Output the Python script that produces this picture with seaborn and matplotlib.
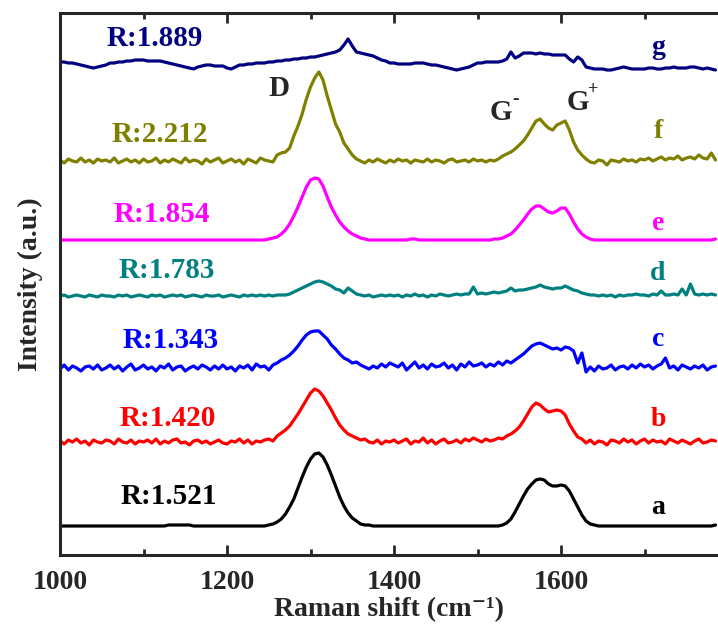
import numpy as np
import pandas as pd
import matplotlib
matplotlib.use("Agg")
import matplotlib.pyplot as plt
import seaborn as sns

# --- DATA (heights above each curve's own baseline) ---
shift = np.arange(1000, 1790, 5)  # Raman shift grid, cm-1

a_vals = [0,0,0,0,0,0,0,0,0,0, 0,0,0,0,0,0,0,0,0,0,
          0,0,0,0,0,0,1,1,1,1, 1,1,0,0,0,0,0,0,0,0,
          0,0,0,0,0,0,0,0,0,0, 1,2,4,7,12,19,27,38,49,59,
          67,72,73,69,61,51,40,29,20,13, 8,5,2,1,1,0,0,0,0,0,
          0,0,0,0,0,0,0,0,0,0, 0,0,0,0,0,0,0,0,0,0,
          0,0,0,0,0,0,1,3,7,14, 22,30,37,42,46,47,46,42,40,40,
          41,40,35,27,19,11,5,2,1,0, 0,0,0,0,0,0,0,0,0,0,
          0,0,0,0,0,0,0,0,0,0, 0,0,0,0,0,0,0,1]

b_vals = [1,-2,2,0,3,-1,1,-3,2,0, -1,2,1,-2,3,0,-1,2,-2,1,
          0,2,-1,3,-2,1,-1,2,3,-1, 0,-3,1,2,-1,1,-2,0,2,-1,
          -2,1,0,3,-1,2,-2,1,0,2, 3,1,6,9,12,16,22,28,35,42,
          49,53,51,46,39,32,24,17,12,8, 6,4,2,3,0,-1,2,-2,1,0,
          2,-1,1,3,-2,1,0,4,-1,2, -2,1,3,-1,0,2,-1,3,1,4,
          2,0,3,1,2,4,3,6,8,11, 15,21,28,35,39,37,33,30,31,32,
          31,27,18,11,5,3,-1,2,-2,1, 0,-3,2,1,-1,3,0,2,-2,1,
          3,-1,2,0,1,-2,3,1,-1,2, 0,-2,1,3,-1,0,2,1]

c_vals = [-1,3,-2,2,0,-3,1,2,-1,3, -2,0,3,-1,2,-3,1,4,-2,0,
          3,-1,1,-3,2,0,4,-2,1,2, -3,0,2,-1,3,1,-2,2,-1,3,
          -1,1,-3,2,0,3,-2,4,1,2, -2,3,5,8,10,13,17,22,28,33,
          36,37,37,33,29,23,19,14,10,8, 5,6,3,1,-1,2,0,4,1,5,
          3,1,5,-2,2,6,0,3,-1,4, 1,2,5,0,3,-2,4,1,6,2,
          3,5,1,4,2,6,3,7,5,8, 11,14,18,22,24,25,23,21,19,20,
          18,21,20,17,5,15,-4,1,-3,2, -1,0,3,-2,1,2,-1,3,0,4,
          1,3,-1,2,4,10,0,2,-2,3, 1,-1,2,0,3,-2,1,2]

d_vals = [0,1,-1,0,1,0,-1,1,0,-1, 1,0,0,-1,1,0,1,-1,0,1,
          0,-1,1,0,1,-1,0,1,0,1, -1,0,1,0,-1,1,0,0,1,-1,
          0,1,0,-1,1,0,1,0,1,0, 1,0,1,1,1,2,4,6,8,10,
          12,14,15,14,12,10,7,6,3,8, 5,2,1,0,1,-1,0,1,0,1,
          0,1,-1,1,0,2,0,1,-1,1, 0,2,1,0,1,2,1,2,2,9,
          2,3,2,3,4,3,4,5,8,5, 6,6,7,8,9,11,9,8,7,8,
          8,10,8,6,5,3,2,1,1,0, 1,0,1,-1,1,0,1,1,2,1,
          1,0,2,1,5,1,1,2,1,7, 1,12,2,1,2,1,2,1]

e_vals = [0,0,0,0,0,0,0,0,0,0, 0,0,0,0,0,0,0,0,0,0,
          0,0,0,0,0,0,0,0,0,0, 0,0,0,0,0,0,0,0,0,0,
          0,0,0,0,0,0,0,0,0,0, 1,2,3,6,10,16,24,33,43,53,
          60,62,61,54,43,33,25,18,13,9, 6,4,2,1,0,0,0,0,0,0,
          0,0,0,0,1,1,0,0,0,0, 0,0,0,0,0,0,0,0,0,0,
          0,0,0,0,1,1,2,4,6,10, 15,20,26,31,34,34,31,28,27,29,
          32,32,26,18,11,6,3,1,0,0, 0,0,0,0,0,0,0,0,0,0,
          0,0,0,0,0,0,0,0,0,0, 0,0,0,0,0,0,0,1]

f_vals = [1,-2,2,0,-1,3,-1,1,-2,2, 0,1,-1,3,-2,0,2,-1,1,-2,
          2,-1,0,3,-2,1,-1,2,0,-2, 3,-1,1,0,-3,2,-1,1,3,-2,
          0,2,-1,1,-3,2,0,-2,3,1, 0,-1,6,8,9,13,25,35,47,62,
          74,83,89,81,65,51,37,29,18,12, 6,2,0,-2,1,-1,2,0,-2,1,
          -1,2,0,1,-2,1,0,-1,2,-1, 1,0,-2,1,2,-1,0,1,-1,2,
          0,1,-1,1,0,2,5,7,9,12, 16,20,26,33,40,42,37,33,31,36,
          38,40,31,19,11,6,2,-1,-2,1, 0,-4,1,0,-1,2,0,1,-1,2,
          1,3,0,2,4,1,3,2,5,1, 3,4,2,6,3,2,8,1]

g_vals = [6,6,5,5,4,3,2,1,0,1, 2,3,5,5,6,6,7,7,8,8,
          8,7,7,7,7,6,5,4,3,2, 1,0,-1,1,2,3,3,2,2,2,
          0,-1,1,3,3,4,4,5,5,5, 6,6,7,7,8,8,9,9,10,10,
          11,11,12,13,14,15,16,18,23,29, 22,16,15,14,13,12,10,8,7,5,
          5,4,4,4,4,5,5,5,4,3, 3,2,1,0,-1,-2,-1,0,1,3,
          5,5,6,6,6,6,7,9,16,10, 12,15,15,15,14,15,14,14,13,13,
          13,13,9,6,11,8,1,0,-1,-1, -1,-2,-2,-1,0,1,0,-1,-1,-1,
          -1,0,0,-1,-1,0,0,1,0,0, 0,1,1,0,-1,0,-1,-2]

samples = ["a", "b", "c", "d", "e", "f", "g"]
ratios = ["R:1.521", "R:1.420", "R:1.343", "R:1.783", "R:1.854", "R:2.212", "R:1.889"]
offsets = [29, 113, 187, 259, 315, 394, 487]  # vertical stacking of the spectra
colors = ["black", "#FF0000", "#0000FF", "#008080", "#FF00FF", "#808000", "#000080"]

# --- BUILD LONG TABLE ---
all_vals = [a_vals, b_vals, c_vals, d_vals, e_vals, f_vals, g_vals]
frames = []
for name, vals, off in zip(samples, all_vals, offsets):
    frames.append(pd.DataFrame({"shift": shift,
                                "intensity": np.array(vals, dtype=float) + off,
                                "sample": name}))
df = pd.concat(frames, ignore_index=True)

# --- STYLE ---
sns.set_style("ticks")
plt.rcParams["font.family"] = ["Liberation Serif", "DejaVu Serif"]
plt.rcParams["font.weight"] = "bold"

fig = plt.figure(figsize=(7.18, 6.24), dpi=100)
ax = fig.add_axes([60 / 718, 69 / 624, 658 / 718, 542 / 624])

sns.lineplot(data=df, x="shift", y="intensity", hue="sample",
             palette=dict(zip(samples, colors)), linewidth=2.3,
             legend=False, ax=ax, estimator=None)

ax.set_xlim(1000, 1788)
ax.set_ylim(0, 542)

# labels on the curves
label_x = [1130, 1129, 1132, 1128, 1122, 1120, 1114]
label_y = [58, 137, 215, 285, 341, 420, 517]
letter_y = [48, 135, 215, 282, 332, 423, 507]
for txt, s, col, lx, ly, sy in zip(ratios, samples, colors, label_x, label_y, letter_y):
    ax.text(lx, ly, txt, color=col, fontsize=21, fontweight="bold",
            ha="center", va="center")
    ax.text(1716, sy, s, color=col, fontsize=20, fontweight="bold",
            ha="center", va="center")

# band names, with small superscripts for G- / G+
ax.text(1262, 467, "D", fontsize=21, fontweight="bold", ha="center", va="center")
ax.text(1528, 443, "G", fontsize=21, fontweight="bold", ha="center", va="center")
ax.text(1545, 456, "-", fontsize=14, fontweight="bold", ha="center", va="center")
ax.text(1620, 452, "G", fontsize=21, fontweight="bold", ha="center", va="center")
ax.text(1639, 465, "+", fontsize=13, fontweight="bold", ha="center", va="center")

# axes cosmetics
for side in ["left", "bottom", "top"]:
    ax.spines[side].set_linewidth(2.2)
ax.spines["right"].set_visible(False)
ax.set_xticks([1000, 1200, 1400, 1600])
ax.set_xticks([1100, 1300, 1500, 1700], minor=True)
ax.tick_params(axis="x", which="major", direction="in", length=7, width=2,
               top=True, labelsize=20, pad=11)
ax.tick_params(axis="x", which="minor", direction="in", length=4, width=2, top=True)
ax.set_yticks([])
for lab in ax.get_xticklabels():
    lab.set_fontweight("bold")

ax.set_xlabel("Raman shift (cm\u207b\u00b9)", fontsize=20, fontweight="bold", labelpad=1)
ax.set_ylabel("Intensity (a.u.)", fontsize=20, fontweight="bold", labelpad=12)

plt.savefig("out.png", dpi=100)
